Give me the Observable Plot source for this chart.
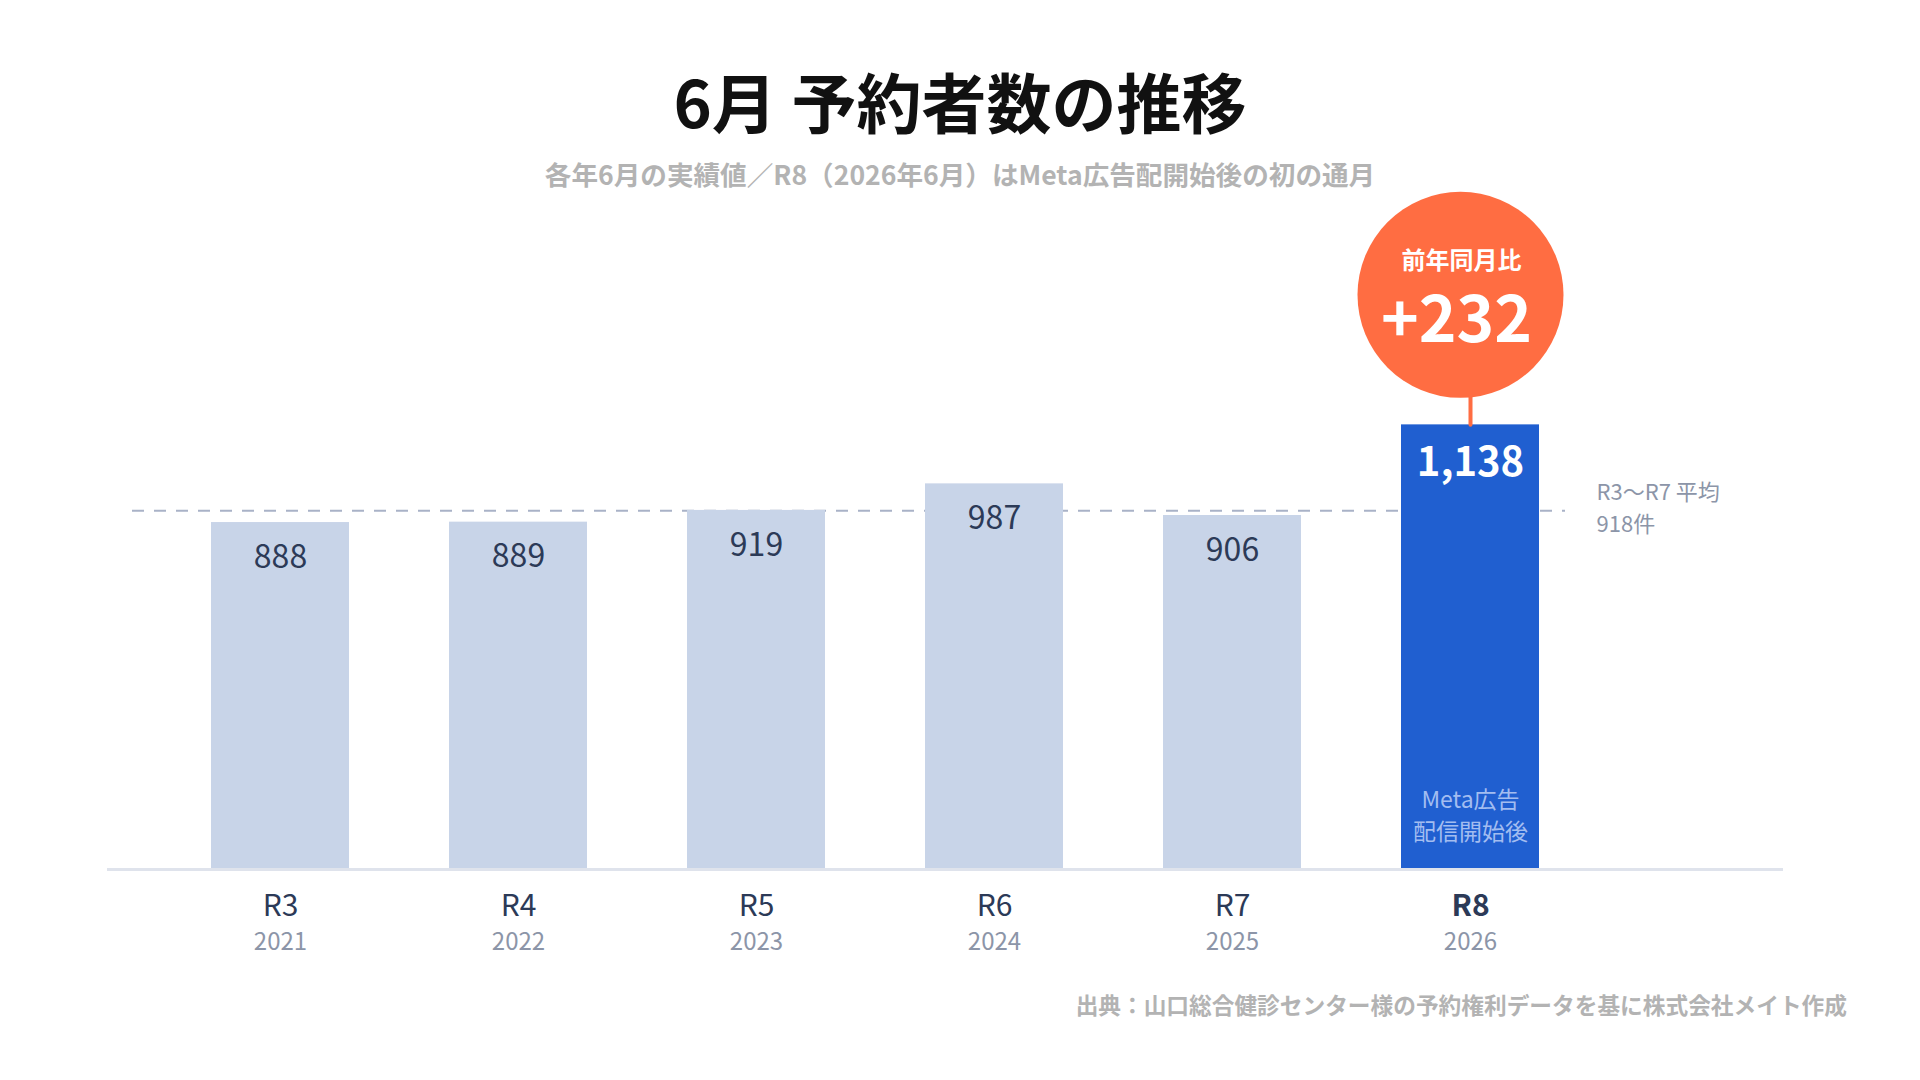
<!DOCTYPE html>
<html lang="ja">
<head>
<meta charset="utf-8">
<script src="https://cdn.jsdelivr.net/npm/d3@7"></script>
<script src="https://cdn.jsdelivr.net/npm/@observablehq/plot@0.6"></script>
<style>
  html, body { margin: 0; padding: 0; background: #ffffff; }
  body { width: 1920px; height: 1080px; position: relative; overflow: hidden;
         font-family: "Noto Sans CJK JP", "Noto Sans", sans-serif; }
  #title { position: absolute; left: 0; width: 1920px; top: 60px; line-height: 80px;
           text-align: center; font-size: 65px; font-weight: 700; color: #111111; }
  #subtitle { position: absolute; left: 0; width: 1920px; top: 156px; line-height: 36px;
              text-align: center; font-size: 26.6px; font-weight: 700; color: #b3b3b3; }
  #chart { position: absolute; left: 0; top: 190px; }
  #caption { position: absolute; right: 73px; top: 990px; line-height: 30px;
             font-size: 22.7px; font-weight: 700; color: #b3b3b3; }
</style>
</head>
<body>
<div id="title">6月 予約者数の推移</div>
<div id="subtitle">各年6月の実績値／R8（2026年6月）はMeta広告配開始後の初の通月</div>
<div id="chart"></div>
<div id="caption">出典：山口総合健診センター様の予約権利データを基に株式会社メイト作成</div>
<script>
const categories = ["R3", "R4", "R5", "R6", "R7", "R8"];
const years = ["2021", "2022", "2023", "2024", "2025", "2026"];
const values = [888, 889, 919, 987, 906, 1138];
const highlight = "R8";
const baseCategories = ["R3", "R4", "R5", "R6", "R7"];
const barNote = "Meta広告\n配信開始後";
const badgeTitle = "前年同月比";

const rows = categories.map((c, i) => ({cat: c, year: years[i], value: values[i], hi: c === highlight}));
const baseRows = rows.filter(d => baseCategories.includes(d.cat));
const avg = Math.round(d3.mean(baseRows, d => d.value));
const hiRow = rows.find(d => d.hi);
const prevRow = rows[rows.indexOf(hiRow) - 1];
const diff = hiRow.value - prevRow.value;
const avgLabel = `${baseCategories[0]}〜${baseCategories[baseCategories.length - 1]} 平均\n${avg}件`;

const font = "'Noto Sans CJK JP', 'Noto Sans', sans-serif";
const spike = {draw(context, l) { context.moveTo(0, 0); context.lineTo(0, -l); }};

const chart = Plot.plot({
  width: 1920,
  height: 780,
  marginLeft: 107,
  marginRight: 137,
  marginTop: 132,
  marginBottom: 101,
  style: {fontFamily: font, background: "transparent"},
  x: {domain: categories, range: [211, 1540], paddingInner: 0.42, paddingOuter: 0, axis: null},
  y: {domain: [0, 1400], axis: null},
  marks: [
    Plot.ruleY([avg], {stroke: "#a9b2c7", strokeWidth: 2, strokeDasharray: "12,10", insetLeft: 25, insetRight: 218}),
    Plot.barY(rows, {x: "cat", y: "value", fill: d => d.hi ? "#205fd0" : "#c8d4e8"}),
    Plot.ruleY([0], {stroke: "#dfe3ec", strokeWidth: 3}),
    Plot.text(rows, {filter: d => !d.hi, x: "cat", y: "value", text: d => d3.format(",")(d.value),
      dy: 35, fontSize: 32, fill: "#2c3a57", lineAnchor: "middle"}),
    Plot.text(rows, {filter: d => d.hi, x: "cat", y: "value", text: d => d3.format(",")(d.value),
      dy: 38, fontSize: 40, fontWeight: 700, fill: "#ffffff", lineAnchor: "middle"}),
    Plot.text(rows, {filter: d => d.hi, x: "cat", y: 0, text: () => barNote,
      dy: -56, fontSize: 23, lineHeight: 1.39, fill: "#a3bdf0", lineAnchor: "middle"}),
    Plot.text(rows, {filter: d => !d.hi, x: "cat", text: "cat", frameAnchor: "bottom",
      dy: 37, fontSize: 30, fill: "#2c3a57", lineAnchor: "middle"}),
    Plot.text(rows, {filter: d => d.hi, x: "cat", text: "cat", frameAnchor: "bottom",
      dy: 37, fontSize: 30, fontWeight: 700, fill: "#2c3a57", lineAnchor: "middle"}),
    Plot.text(rows, {x: "cat", text: "year", frameAnchor: "bottom",
      dy: 73, fontSize: 24, fill: "#8c95a8", lineAnchor: "middle"}),
    Plot.text([avgLabel], {y: [avg], text: d => d, frameAnchor: "right", dx: -187, dy: -5, textAnchor: "start",
      fontSize: 22, lineHeight: 1.45, fill: "#8c95a8", lineAnchor: "middle"}),
    Plot.vector([hiRow], {x: "cat", y: "value", length: 40, rotate: 0, anchor: "start", shape: spike,
      stroke: "#ff6d42", strokeWidth: 4}),
    Plot.dot([hiRow], {x: "cat", y: "value", dy: -130, dx: -10, r: 103, fill: "#ff6d42", stroke: "none"}),
    Plot.text([hiRow], {x: "cat", y: "value", text: () => badgeTitle, dy: -164, dx: -9,
      fontSize: 24, fontWeight: 700, fill: "#ffffff", lineAnchor: "middle"}),
    Plot.text([hiRow], {x: "cat", y: "value", text: () => `+${diff}`, dy: -103, dx: -14,
      fontSize: 64, fontWeight: 700, fill: "#ffffff", lineAnchor: "middle"})
  ]
});
document.getElementById("chart").appendChild(chart);
</script>
</body>
</html>
